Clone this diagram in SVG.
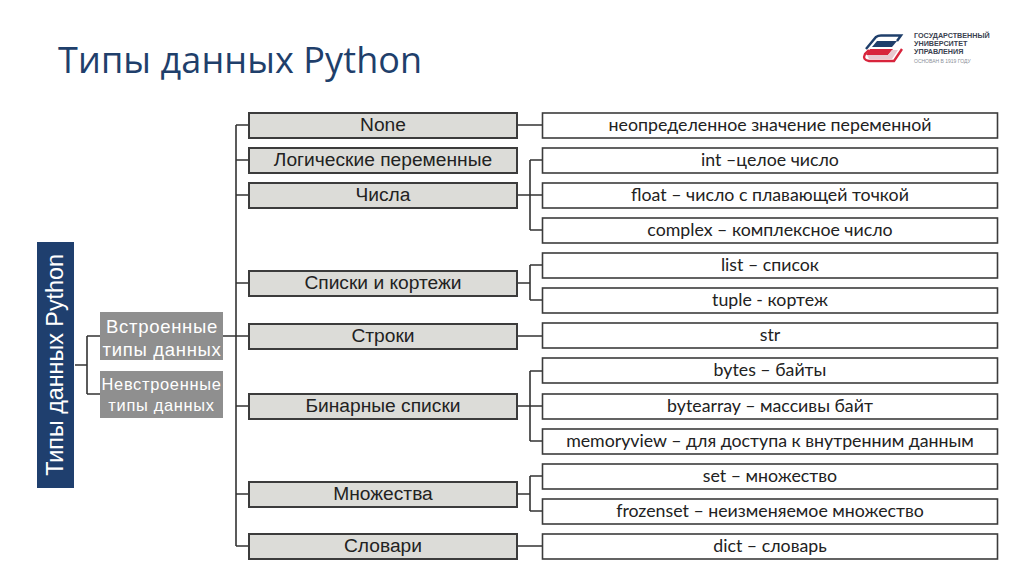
<svg xmlns="http://www.w3.org/2000/svg" width="1024" height="574" viewBox="0 0 1024 574">
<style>
.m{fill:#dcdcd8;stroke:#3c3c3c;stroke-width:2}
.r{fill:#fff;stroke:#3c3c3c;stroke-width:1.6}
.g{fill:#8f8f8f}
.c{fill:none;stroke:#333;stroke-width:1.6}
.tm{font-family:"Liberation Sans",Arial,sans-serif;font-size:19.2px;fill:#222;text-anchor:middle}
.tr{font-family:Lato,"Open Sans",sans-serif;font-size:17.75px;fill:#222;text-anchor:middle}
.tg{font-family:"Liberation Sans",Arial,sans-serif;font-size:18.5px;letter-spacing:.7px;fill:#fff;text-anchor:middle}
.ts{font-size:16.4px}
.lg{font-family:"Liberation Sans",Arial,sans-serif;font-size:7.2px;font-weight:bold;fill:#3a4250}
</style>
<rect width="1024" height="574" fill="#fff"/>
<text id="title" x="58" y="73" font-family="'Open Sans','Noto Sans',sans-serif" font-size="36" font-weight="500" letter-spacing="0.1" fill="#1f3f6b">Типы данных Python</text>
<g id="logo">
<path d="M866 49 L876 37 Q878 35.500 881 35.500 H901 L897 41" fill="none" stroke="#1f3f6b" stroke-width="2.4"/>
<path d="M877 41 H897 L892 47 H872 Z" fill="#1f3f6b"/>
<path d="M870 49 H893 L888 55 H866 Z" fill="#d8243c"/>
<path d="M902 49 L894 61 H869 Q862 60 865 54 L869 50" fill="none" stroke="#d8243c" stroke-width="2.4"/>
<path d="M867 55 H888 L892 50 H898 L892 59 H869 Z" fill="#e8c8d0"/>
<text class="lg" x="914" y="38">ГОСУДАРСТВЕННЫЙ</text>
<text class="lg" x="914" y="46">УНИВЕРСИТЕТ</text>
<text class="lg" x="914" y="54">УПРАВЛЕНИЯ</text>
<text class="lg" x="914" y="63" style="font-size:5px;font-weight:normal;fill:#8a8f98">ОСНОВАН В 1919 ГОДУ</text>
</g>
<g id="connectors">
<path class="c" d="M75 365H87M87 336V394M87 336H100M87 394H100"/>
<path class="c" d="M223 336H248M236 125V546M236 125H248M236 160H248M236 195H248M236 283H248M236 406H248M236 494H248M236 546H248"/>
<path class="c" d="M518 125H542M518 195H542M530 160V230M530 160H542M530 230H542"/>
<path class="c" d="M518 283H530M530 265V300M530 265H542M530 300H542M518 336H542"/>
<path class="c" d="M518 406H542M530 371V441M530 371H542M530 441H542"/>
<path class="c" d="M518 494H530M530 476V511M530 476H542M530 511H542M518 546H542"/>
</g>
<g id="root"><rect x="37" y="242" width="37" height="246" fill="#1f3f6e"/><text transform="translate(63 365) rotate(-90)" text-anchor="middle" font-family="'Liberation Sans',Arial,sans-serif" font-size="23.300" fill="#fff">Типы данных Python</text></g>
<g id="builtin"><rect class="g" x="100" y="312" width="123" height="48"/><text class="tg" x="162" y="333">Встроенные</text><text class="tg" x="162" y="356">типы данных</text></g>
<g id="nonbuiltin"><rect class="g" x="100" y="371" width="123" height="47"/><text class="tg ts" x="161.500" y="390">Невстроенные</text><text class="tg ts" x="161.500" y="411">типы данных</text></g>
<g id="m1"><rect class="m" x="249" y="113" width="268" height="25"/><text class="tm" x="383" y="131">None</text></g>
<g id="m2"><rect class="m" x="249" y="148" width="268" height="25"/><text class="tm" x="383" y="166">Логические переменные</text></g>
<g id="m3"><rect class="m" x="249" y="183" width="268" height="25"/><text class="tm" x="383" y="201">Числа</text></g>
<g id="m4"><rect class="m" x="249" y="271" width="268" height="25"/><text class="tm" x="383" y="289">Списки и кортежи</text></g>
<g id="m5"><rect class="m" x="249" y="324" width="268" height="25"/><text class="tm" x="383" y="342">Строки</text></g>
<g id="m6"><rect class="m" x="249" y="394" width="268" height="25"/><text class="tm" x="383" y="412">Бинарные списки</text></g>
<g id="m7"><rect class="m" x="249" y="482" width="268" height="25"/><text class="tm" x="383" y="500">Множества</text></g>
<g id="m8"><rect class="m" x="249" y="534" width="268" height="25"/><text class="tm" x="383" y="552">Словари</text></g>
<g id="r1"><rect class="r" x="542.500" y="113" width="455" height="25"/><text class="tr" x="770" y="131">неопределенное значение переменной</text></g>
<g id="r2"><rect class="r" x="542.500" y="148" width="455" height="25"/><text class="tr" x="770" y="166">int –целое число</text></g>
<g id="r3"><rect class="r" x="542.500" y="183" width="455" height="25"/><text class="tr" x="770" y="201">float – число с плавающей точкой</text></g>
<g id="r4"><rect class="r" x="542.500" y="218" width="455" height="25"/><text class="tr" x="770" y="236">complex – комплексное число</text></g>
<g id="r5"><rect class="r" x="542.500" y="253" width="455" height="25"/><text class="tr" x="770" y="271">list – список</text></g>
<g id="r6"><rect class="r" x="542.500" y="288" width="455" height="25"/><text class="tr" x="770" y="306">tuple - кортеж</text></g>
<g id="r7"><rect class="r" x="542.500" y="323" width="455" height="25"/><text class="tr" x="770" y="341">str</text></g>
<g id="r8"><rect class="r" x="542.500" y="358" width="455" height="25"/><text class="tr" x="770" y="376">bytes – байты</text></g>
<g id="r9"><rect class="r" x="542.500" y="394" width="455" height="25"/><text class="tr" x="770" y="412">bytearray – массивы байт</text></g>
<g id="r10"><rect class="r" x="542.500" y="429" width="455" height="25"/><text class="tr" x="770" y="447">memoryview – для доступа к внутренним данным</text></g>
<g id="r11"><rect class="r" x="542.500" y="464" width="455" height="25"/><text class="tr" x="770" y="482">set – множество</text></g>
<g id="r12"><rect class="r" x="542.500" y="499" width="455" height="25"/><text class="tr" x="770" y="517">frozenset – неизменяемое множество</text></g>
<g id="r13"><rect class="r" x="542.500" y="534" width="455" height="25"/><text class="tr" x="770" y="552">dict – словарь</text></g>
</svg>
